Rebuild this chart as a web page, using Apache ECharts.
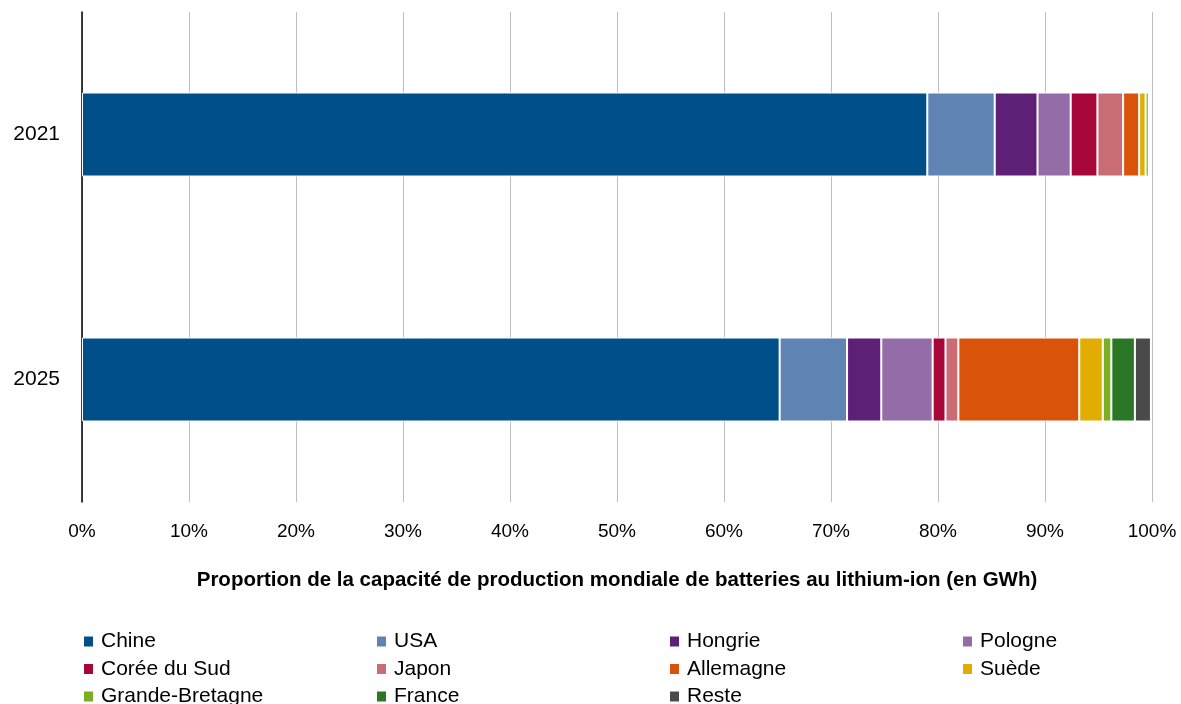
<!DOCTYPE html>
<html>
<head>
<meta charset="utf-8">
<script src="https://cdn.jsdelivr.net/npm/echarts@6/dist/echarts.min.js"></script>
<style>
html,body{margin:0;padding:0;background:#fff;}
#c{width:1181px;height:704px;}
</style>
</head>
<body>
<div id="c"></div>
<script>
var years = ['2021', '2025'];
var countries = ['Chine','USA','Hongrie','Pologne','Corée du Sud','Japon','Allemagne','Suède','Grande-Bretagne','France','Reste'];
var chine = [79.0, 65.2];
var usa = [6.3, 6.3];
var hongrie = [4.0, 3.2];
var pologne = [3.1, 4.8];
var coree = [2.5, 1.2];
var japon = [2.4, 1.2];
var allemagne = [1.5, 11.3];
var suede = [0.6, 2.2];
var grandeBretagne = [0.3, 0.8];
var france = [0.0, 2.2];
var reste = [0.0, 1.5];
var xTicks = [0,10,20,30,40,50,60,70,80,90,100];
var colors = ['#004F88','#5F84B3','#5E1F77','#946CA7','#A60638','#C96C74','#D9540A','#E0AD00','#7AAF25','#2A7826','#4A4A4A'];
var values = [chine, usa, hongrie, pologne, coree, japon, allemagne, suede, grandeBretagne, france, reste];

var font = 'Liberation Sans, Arial, sans-serif';
var series = countries.map(function(name, i){
  return {
    name: name, type: 'bar', stack: 'total', barWidth: 84,
    itemStyle: {color: colors[i], borderColor: '#ffffff', borderWidth: 1},
    data: values[i]
  };
});

var cols = [[0,4,8],[1,5,9],[2,6,10],[3,7]];
var colLeft = [82, 375, 668, 961];
var legends = cols.map(function(idx, c){
  return {
    orient: 'vertical', left: colLeft[c], top: 631, height: 80, padding: 0,
    itemWidth: 11, itemHeight: 12, itemGap: 6.5,
    icon: 'rect',
    textStyle: {fontFamily: font, fontSize: 21, color: '#000', padding:[0,0,0,2]},
    selectedMode: false,
    data: idx.map(function(k){ return countries[k]; })
  };
});

var chart = echarts.init(document.getElementById('c'), null, {renderer: 'canvas'});
chart.setOption({
  animation: false,
  color: colors,
  grid: {left: 82, right: 29, top: 12, bottom: 202, containLabel: false},
  legend: legends,
  xAxis: {
    type: 'value', min: 0, max: 100, interval: 10,
    axisLine: {show: false}, axisTick: {show: false},
    axisLabel: {formatter: '{value}%', fontFamily: font, fontSize: 19, color: '#000', margin: 20},
    splitLine: {lineStyle: {color: '#BFBFBF', width: 1}},
    name: 'Proportion de la capacité de production mondiale de batteries au lithium-ion (en GWh)',
    nameLocation: 'middle', nameGap: 68,
    nameTextStyle: {fontFamily: font, fontSize: 20.5, fontWeight: 'bold', color: '#000'}
  },
  yAxis: {
    type: 'category', data: years, inverse: true,
    axisLine: {lineStyle: {color: '#000', width: 1.5}},
    axisTick: {show: false},
    axisLabel: {fontFamily: font, fontSize: 21, color: '#000', margin: 22}
  },
  series: series
});
</script>
</body>
</html>
